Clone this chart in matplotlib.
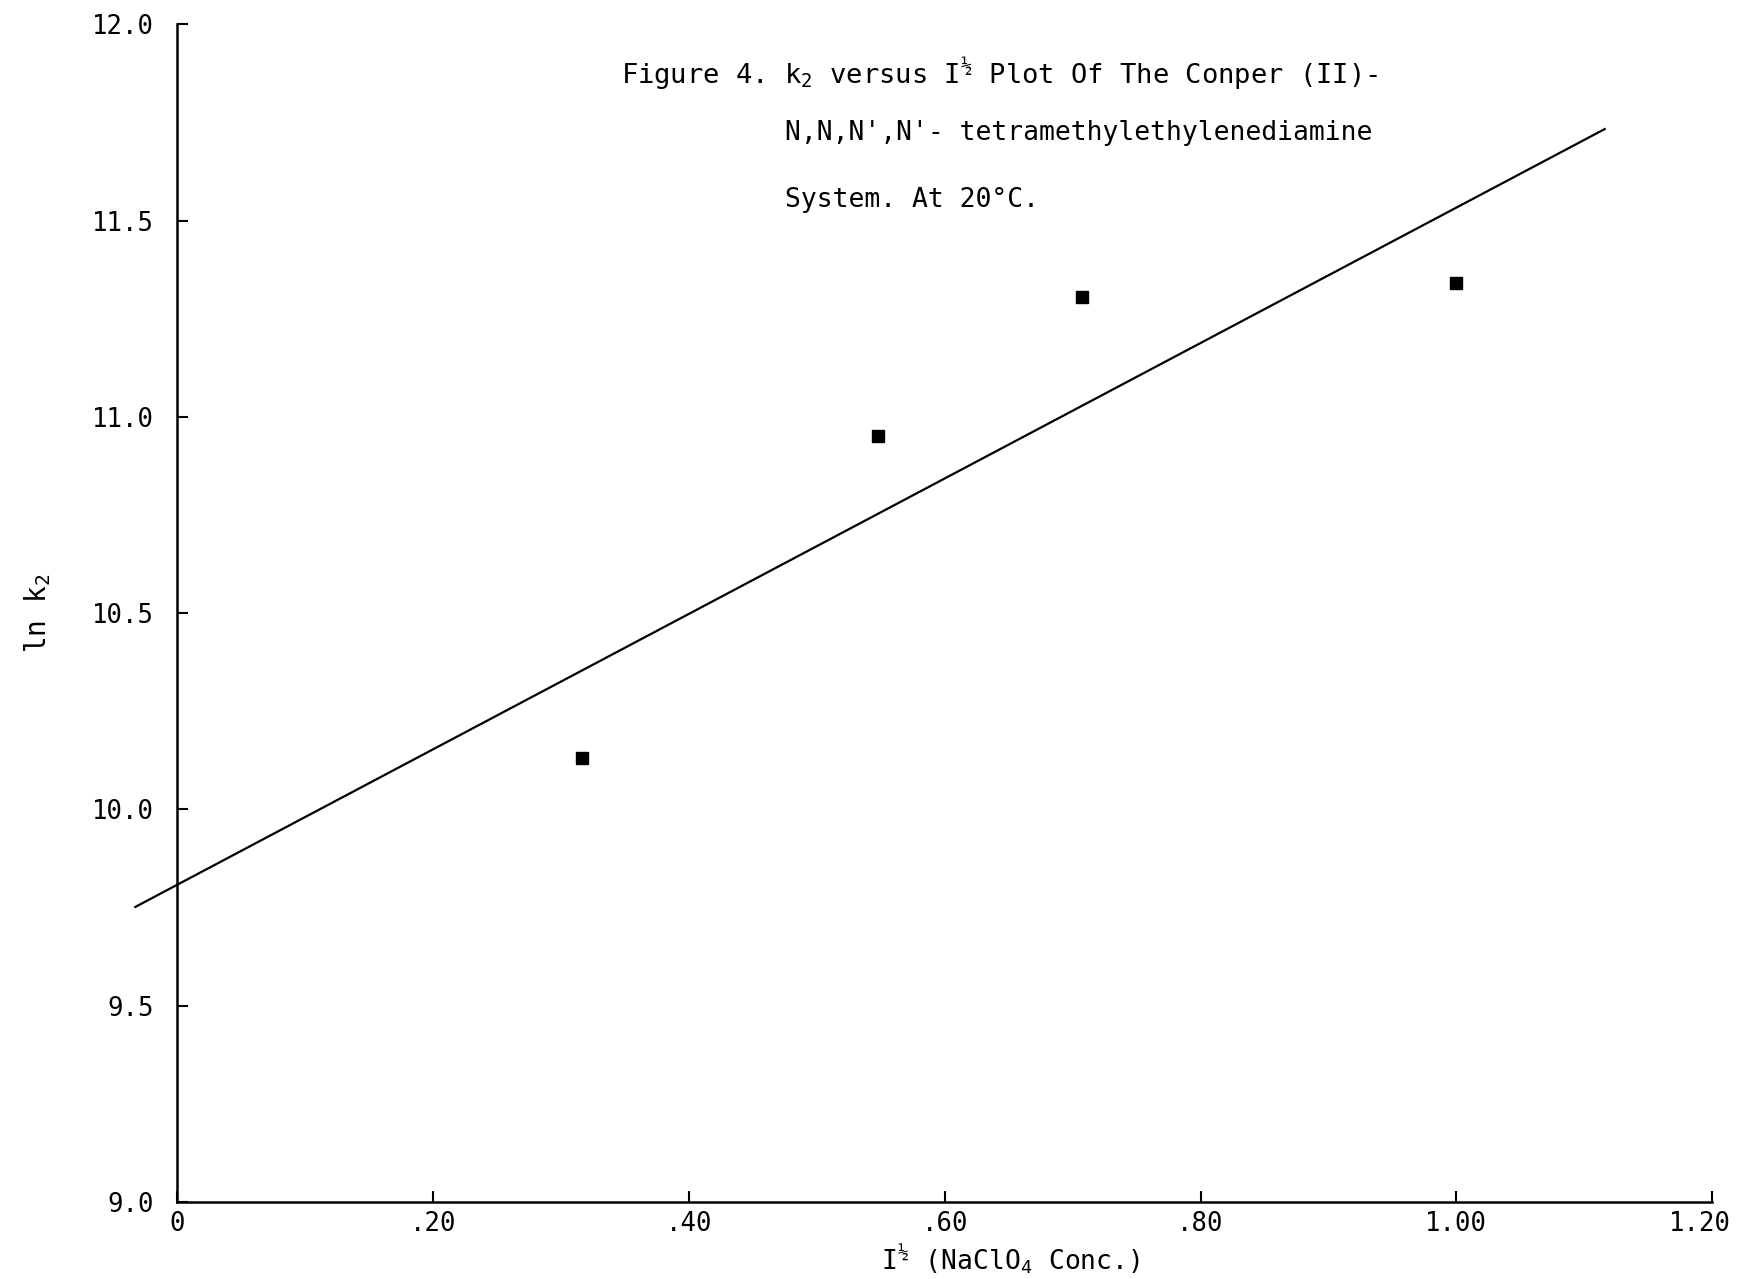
import matplotlib
matplotlib.use("Agg")
from matplotlib import pyplot as plt
from matplotlib.transforms import ScaledTranslation
import numpy as np

plt.rcParams['font.family'] = ['DejaVu Sans Mono', 'DejaVu Sans']
plt.rcParams['mathtext.fontset'] = 'custom'
plt.rcParams['mathtext.rm'] = 'DejaVu Sans Mono'
plt.rcParams['mathtext.it'] = 'DejaVu Sans Mono'

# measured points (sqrt of ionic strength vs ln k2)
sqrt_i = [0.316, 0.548, 0.707, 1.000]
ln_k2 = [10.13, 10.95, 11.305, 11.34]

# drawn least-squares line
fit_intercept = 9.808
fit_slope = 1.725
fit_x = [-0.033, 1.116]

xticks = [0, 0.2, 0.4, 0.6, 0.8, 1.0, 1.2]
xtick_labels = ['0', '.20', '.40', '.60', '.80', '1.00', '1.20']
yticks = [9.0, 9.5, 10.0, 10.5, 11.0, 11.5, 12.0]
ytick_labels = ['9.0', '9.5', '10.0', '10.5', '11.0', '11.5', '12.0']

fig = plt.figure(figsize=(17.4, 12.79), dpi=100)
ax = fig.add_axes([0.102, 0.0604, 0.882, 0.9206])

fx = np.array(fit_x)
ax.plot(fx, fit_intercept + fit_slope * fx, color='black', lw=1.6, clip_on=False)
ax.plot(sqrt_i, ln_k2, 's', color='black', markersize=8, linestyle='none')

ax.set_xlim(0, 1.2)
ax.set_ylim(9.0, 12.0)
ax.set_xticks(xticks)
ax.set_xticklabels(xtick_labels)
ax.set_yticks(yticks)
ax.set_yticklabels(ytick_labels)
ax.tick_params(direction='in', length=8, width=1.5, labelsize=18.5)
ax.tick_params(axis='y', pad=17)
ax.tick_params(axis='x', pad=7)
ax.spines['top'].set_visible(False)
ax.spines['right'].set_visible(False)
ax.spines['left'].set_linewidth(1.8)
ax.spines['bottom'].set_linewidth(1.8)

# last x label sits a bit left of its tick, as in the scan
last = ax.get_xticklabels()[-1]
last.set_transform(last.get_transform() + ScaledTranslation(-9 / 72, 0, fig.dpi_scale_trans))

ax.set_ylabel('ln k$_2$', fontsize=20, labelpad=28)

fig.text(621 / 1740, 1 - 74 / 1279,
         'Figure 4. k$_2$ versus I$^{½}$ Plot Of The Conper (II)-',
         fontsize=19.5, va='center', ha='left')
fig.text(785 / 1740, 1 - 133 / 1279,
         "N,N,N',N'- tetramethylethylenediamine",
         fontsize=19, va='center', ha='left')
fig.text(785 / 1740, 1 - 200 / 1279,
         'System. At 20°C.',
         fontsize=19, va='center', ha='left')

# x label sits at the very bottom edge of the page
fig.text(1010 / 1740, 3 / 1279, 'I$^{½}$ (NaClO$_4$ Conc.)',
         fontsize=19, va='bottom', ha='center')

fig.savefig('out.png', dpi=100, facecolor='white')
